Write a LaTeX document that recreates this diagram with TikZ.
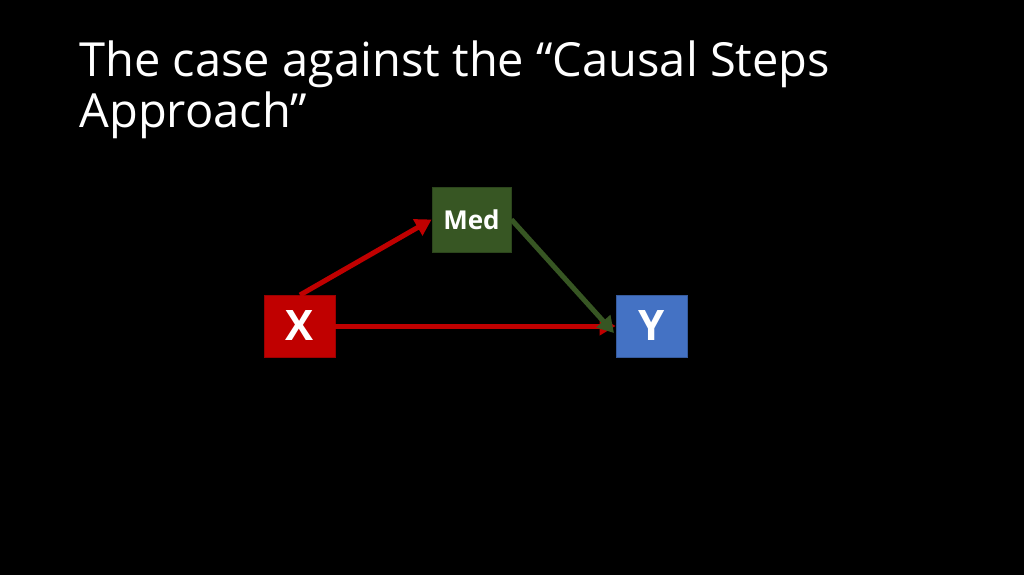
\documentclass[tikz,border=0pt]{standalone}
\usepackage{fontspec}
\setmainfont{Open Sans}
\usetikzlibrary{arrows.meta}
\definecolor{medg}{HTML}{375623}
\definecolor{xred}{HTML}{C00000}
\definecolor{yblue}{HTML}{4472C4}
\begin{document}
\begin{tikzpicture}[x=1pt,y=-1pt,
  box/.style={draw=#1!80!black,fill=#1,line width=0.8pt,inner sep=0pt,text=white,font=\bfseries},
  arr/.style={line width=5pt,-{Triangle[length=16pt,width=18pt]}}]
\fill[black] (0,0) rectangle (1024,575);
\useasboundingbox (0,0) rectangle (1024,575);
\node[anchor=base west,text=white,font=\fontsize{47}{50}\selectfont,align=left] (t) at (76,77) {The case against the “Causal Steps};
\node[anchor=base west,text=white,font=\fontsize{47}{50}\selectfont] (t2) at (76,127) {Approach”};
\node[box=medg,minimum width=79pt,minimum height=65pt,font=\bfseries\fontsize{26}{30}\selectfont] (m) at (471.5,219.5) {Med};
\node[box=xred,minimum width=71pt,minimum height=62pt,font=\bfseries\fontsize{42}{46}\selectfont] (x) at (299.5,326) {X};
\node[box=yblue,minimum width=71pt,minimum height=62pt,font=\bfseries\fontsize{42}{46}\selectfont] (y) at (651.5,326) {Y};
\draw[arr,xred] (300,295) -- (m.west);
\draw[arr,xred] (x.east) -- (y.west);
\draw[arr,medg] (m.east) -- (614,333);
\end{tikzpicture}
\end{document}
